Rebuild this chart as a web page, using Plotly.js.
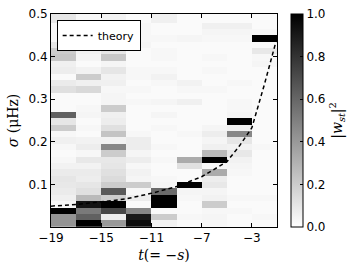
<!DOCTYPE html>
<html>
<head>
<meta charset="utf-8">
<script src="https://cdn.plot.ly/plotly-3.0.1.min.js"></script>
<style>
  html, body { margin: 0; padding: 0; background: #fff; }
  #chart { width: 360px; height: 270px; }
</style>
</head>
<body>
<div id="chart"></div>
<script>
// time bins (edges) along x
var tEdges = [-19, -17, -15, -13, -11, -9, -7, -5, -3, -1];
var sigmaBinWidth = 0.015; // muHz, 34 bins up to 0.51
var sigmaBinCount = 34;

// |w_st|^2 per time bin, from sigma = 0 upwards (one value per sigma bin)
var wT19 = [0.42,0.42,1.0,0.03,0.06,0.08,0.09,0.1,0.08,0.05,0.03,0.02,0.03,0.06,0.03,0.2,0.1,0.62,0.02,0.02,0.02,0.12,0.08,0.02,0.07,0.06,0.22,0.2,0.1,0.03,0.03,0.03,0.1,0.1];
var wT17 = [1.0,0.62,0.52,0.92,0.27,0.12,0.1,0.07,0.08,0.05,0.09,0.03,0.07,0.05,0.02,0.03,0.02,0.04,0.03,0.02,0.02,0.15,0.06,0.2,0.05,0.02,0.04,0.05,0.03,0.03,0.03,0.03,0.03,0.03];
var wT15 = [0.4,0.07,0.72,1.0,0.2,0.65,0.2,0.14,0.12,0.1,0.09,0.2,0.47,0.05,0.23,0.12,0.07,0.06,0.2,0.04,0.04,0.03,0.06,0.05,0.1,0.04,0.22,0.1,0.06,0.07,0.03,0.03,0.05,0.05];
var wT13 = [0.95,0.9,0.47,0.02,0.07,0.03,0.2,0.04,0.05,0.03,0.07,0.04,0.07,0.07,0.03,0.02,0.02,0.02,0.02,0.03,0.02,0.03,0.02,0.03,0.03,0.02,0.02,0.02,0.04,0.03,0.03,0.03,0.02,0.02];
var wT11 = [0.05,0.2,0.02,1.0,1.0,0.58,0.04,0.03,0.02,0.02,0.03,0.02,0.03,0.02,0.02,0.03,0.02,0.04,0.02,0.04,0.02,0.02,0.03,0.05,0.03,0.02,0.03,0.03,0.02,0.03,0.02,0.02,0.06,0.06];
var wT9  = [0.02,0.03,0.02,0.02,0.03,0.04,1.0,0.02,0.02,0.12,0.33,0.02,0.02,0.02,0.03,0.02,0.02,0.02,0.02,0.06,0.02,0.03,0.05,0.02,0.02,0.02,0.02,0.02,0.02,0.04,0.02,0.02,0.02,0.02];
var wT7  = [0.03,0.04,0.03,0.2,0.05,0.04,0.09,0.07,0.33,0.03,1.0,0.27,0.06,0.04,0.07,0.04,0.02,0.02,0.02,0.02,0.02,0.03,0.02,0.02,0.03,0.02,0.03,0.02,0.02,0.03,0.04,0.06,0.02,0.02];
var wT5  = [0.02,0.02,0.03,0.02,0.03,0.02,0.02,0.02,0.03,0.04,0.05,0.09,0.05,0.1,0.47,0.06,1.0,0.04,0.03,0.03,0.02,0.02,0.03,0.02,0.02,0.02,0.02,0.02,0.02,0.03,0.04,0.06,0.02,0.02];
var wT3  = [0.02,0.03,0.02,0.02,0.03,0.02,0.02,0.02,0.02,0.02,0.02,0.02,0.03,0.02,0.02,0.02,0.02,0.02,0.02,0.02,0.02,0.02,0.02,0.02,0.02,0.04,0.03,0.09,0.02,1.0,0.03,0.02,0.02,0.02];

// theory curve
var theoryT = [-19, -17, -15, -13, -11, -9, -7, -5, -4, -3, -2, -1];
var theorySigma = [0.049, 0.053, 0.059, 0.066, 0.079, 0.095, 0.118, 0.153, 0.19, 0.233, 0.335, 0.444];

var yTicks = [0.1, 0.2, 0.3, 0.4, 0.5];
var xTicks = [-19, -15, -11, -7, -3];
var cbTicks = [0, 0.2, 0.4, 0.6, 0.8, 1.0];

var sigmaEdges = [];
for (var k = 0; k <= sigmaBinCount; k++) {
  sigmaEdges.push(+(k * sigmaBinWidth).toFixed(4));
}

var columns = [wT19, wT17, wT15, wT13, wT11, wT9, wT7, wT5, wT3];
var z = [];
for (var i = 0; i < sigmaBinCount; i++) {
  var row = [];
  for (var j = 0; j < columns.length; j++) row.push(columns[j][i]);
  z.push(row);
}

var tickFont = {family: 'DejaVu Sans, sans-serif', size: 12, color: '#000'};
var mathFont = {family: 'DejaVu Serif, serif', size: 14, color: '#000'};

var heat = {
  type: 'heatmap',
  x: tEdges,
  y: sigmaEdges,
  z: z,
  zmin: 0,
  zmax: 1,
  colorscale: [[0, '#ffffff'], [1, '#000000']],
  showlegend: false,
  hoverinfo: 'skip',
  colorbar: {
    x: 1.062,
    xanchor: 'left',
    xpad: 0,
    y: 0.5,
    yanchor: 'middle',
    len: 1,
    ypad: 0,
    thickness: 12,
    outlinewidth: 1,
    outlinecolor: '#000',
    tickvals: cbTicks,
    tickformat: '.1f',
    ticks: 'inside',
    ticklen: 3,
    tickcolor: '#000',
    tickfont: tickFont,
    title: {text: '|<i>w</i><sub><i>st</i></sub>|<sup>2</sup>', side: 'right', font: mathFont}
  }
};

var theory = {
  type: 'scatter',
  mode: 'lines',
  name: 'theory',
  x: theoryT,
  y: theorySigma,
  line: {color: '#000', width: 1.5, dash: '4px,3px'},
  hoverinfo: 'skip'
};

var layout = {
  width: 360,
  height: 270,
  margin: {l: 51, r: 83, t: 14, b: 43},
  paper_bgcolor: '#fff',
  plot_bgcolor: '#fff',
  font: tickFont,
  showlegend: true,
  legend: {
    x: 0.025, y: 0.972, xanchor: 'left', yanchor: 'top',
    bgcolor: '#fff', bordercolor: '#000', borderwidth: 1,
    itemwidth: 30,
    font: {family: 'DejaVu Sans, sans-serif', size: 11, color: '#000'}
  },
  xaxis: {
    range: [-19, -1],
    tickvals: xTicks,
    ticks: 'inside',
    ticklen: 4,
    tickcolor: '#000',
    showline: true,
    linecolor: '#000',
    linewidth: 1,
    mirror: 'allticks',
    showgrid: false,
    zeroline: false,
    tickfont: tickFont,
    title: {text: '<i>t</i>(= \u2212<i>s</i>)', font: mathFont, standoff: 5}
  },
  yaxis: {
    range: [0, 0.5],
    tickvals: yTicks,
    tickformat: '.1f',
    ticks: 'inside',
    ticklen: 4,
    tickcolor: '#000',
    showline: true,
    linecolor: '#000',
    linewidth: 1,
    mirror: 'allticks',
    showgrid: false,
    zeroline: false,
    tickfont: tickFont,
    title: {text: '<i>\u03c3</i> (\u03bcHz)', font: mathFont, standoff: 6}
  }
};

Plotly.newPlot('chart', [heat, theory], layout, {staticPlot: true, displayModeBar: false});
</script>
</body>
</html>
